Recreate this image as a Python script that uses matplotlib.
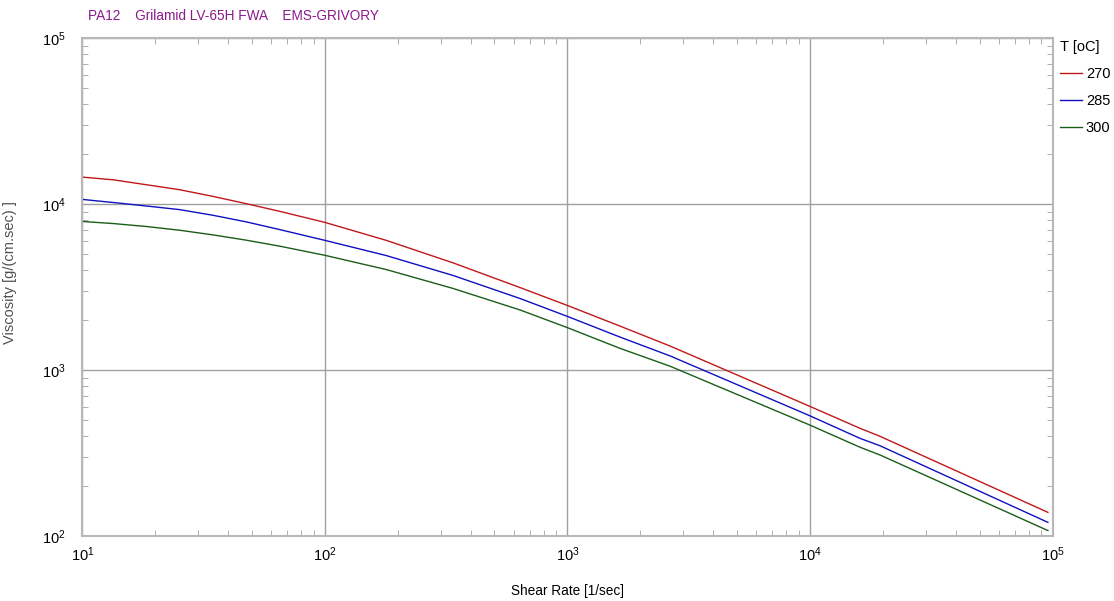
"""
Viscosity vs shear rate curves for PA12 Grilamid LV-65H FWA at three melt temperatures.
"""

import matplotlib
matplotlib.use("Agg")
import matplotlib.pyplot as plt
from matplotlib.ticker import LogLocator, NullFormatter

plt.rcParams["font.family"] = ["Liberation Sans", "DejaVu Sans"]
plt.rcParams["mathtext.fontset"] = "custom"
plt.rcParams["mathtext.rm"] = "Liberation Sans"
plt.rcParams["mathtext.it"] = "Liberation Sans"

# Values.
SHEAR_RATE = [10, 13.4, 18.4, 25.2, 34.6, 47.5, 65.2, 100, 179, 338, 637,
              1000, 1645, 2647, 10000, 16070, 19440, 95700]
VISC_270 = [14520, 13990, 13060, 12190, 11110, 10040, 9030, 7750, 6040, 4418, 3140,
            2448, 1841, 1396, 604, 446, 399, 139]
VISC_285 = [10660, 10210, 9727, 9250, 8550, 7800, 7010, 6040, 4893, 3710, 2698,
            2104, 1581, 1217, 530, 388, 350, 121]
VISC_300 = [7850, 7627, 7318, 6951, 6514, 6053, 5571, 4909, 4030, 3099, 2302,
            1800, 1352, 1055, 466, 343, 308, 108]
TEMPS = ["270", "285", "300"]
COLORS = ["#c01818", "#1010c0", "#1a5e1a"]

fig = plt.figure(figsize=(11.14, 6.01), dpi=100)
ax = fig.add_axes([0.074, 0.108, 0.8708, 0.8288])

for visc, temp, color in zip([VISC_270, VISC_285, VISC_300], TEMPS, COLORS):
    ax.plot(SHEAR_RATE, visc, color=color, linewidth=1.0, label=temp)

ax.set_xscale("log")
ax.set_yscale("log")
ax.set_xlim(10, 1e5)
ax.set_ylim(100, 1e5)

ax.xaxis.set_major_locator(LogLocator(base=10, numticks=10))
ax.yaxis.set_major_locator(LogLocator(base=10, numticks=10))
ax.xaxis.set_minor_locator(LogLocator(base=10, subs=range(2, 10), numticks=10))
ax.yaxis.set_minor_locator(LogLocator(base=10, subs=range(2, 10), numticks=10))
ax.xaxis.set_minor_formatter(NullFormatter())
ax.yaxis.set_minor_formatter(NullFormatter())

ax.grid(True, which="major", color="#a0a0a0", linewidth=1.0)
ax.tick_params(which="major", length=0, labelsize=10.5, pad=12)
ax.tick_params(axis="x", which="major", pad=7)
ax.tick_params(which="minor", direction="in", length=4, color="#a0a0a0",
               top=True, right=True)
for spine in ax.spines.values():
    spine.set_color("#b8b8b8")
    spine.set_linewidth(1.5)

ax.set_xlabel("Shear Rate [1/sec]", fontsize=9.8, labelpad=14)
ax.set_ylabel("Viscosity [g/(cm.sec) ]", fontsize=10.5, color="#505050")
ax.yaxis.set_label_coords(-0.067, 0.53)

fig.text(0.079, 0.973, "PA12    Grilamid LV-65H FWA    EMS-GRIVORY",
         color="#8b1a8b", fontsize=9.8, va="center", ha="left")

leg = ax.legend(loc="upper left", bbox_to_anchor=(1.002, 1.007), frameon=False,
                title="T [oC]", fontsize=10.5, title_fontsize=10.5,
                handlelength=1.5, handletextpad=0.25, labelspacing=0.88,
                borderaxespad=0.2, borderpad=0.2)
leg._legend_box.align = "left"

fig.savefig("out.png", dpi=100)
